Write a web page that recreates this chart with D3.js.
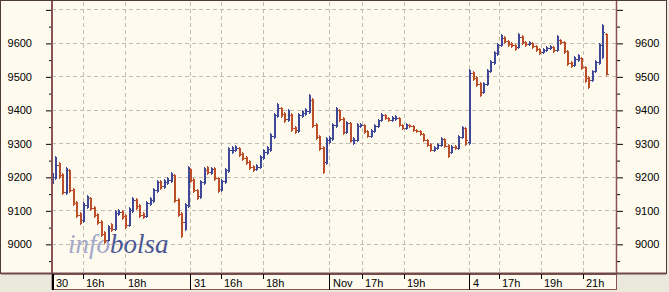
<!DOCTYPE html>
<html>
<head>
<meta charset="utf-8">
<script src="https://cdn.jsdelivr.net/npm/d3@7"></script>
<style>
  body { margin: 0; background: #ebe8dc; }
  svg { display: block; }
</style>
</head>
<body>
<svg id="chart" width="669" height="292"></svg>
<script>
// trading days shown, in session hours counted from the left edge
const dayLabels = ['30', '31', 'Nov', '4']
const dayStart = [0, 6.57, 13.19, 19.86]
const dayOpenHour = [14.52, 14.52, 15.43, 15.57]
const dayHourTicks = [[16, 18], [16, 18], [17, 19], [17, 19, 21]]
const sessionHours = 26.86
const barMinutes = 10

const yLabels = [9000, 9100, 9200, 9300, 9400, 9500, 9600]
const yGrid = [9000, 9100, 9200, 9300, 9400, 9500, 9600, 9700]
const yMinor = [8950, 9050, 9150, 9250, 9350, 9450, 9550, 9650]

// [open, high, low, close] per 10 min bar
const bars30 = [
  [9195, 9215, 9178, 9200], [9200, 9263, 9195, 9236], [9236, 9245, 9198, 9206], [9206, 9212, 9148, 9155],
  [9155, 9228, 9150, 9221], [9221, 9224, 9155, 9161], [9161, 9168, 9115, 9122], [9122, 9128, 9080, 9087],
  [9087, 9095, 9058, 9072], [9072, 9125, 9066, 9116], [9116, 9145, 9108, 9137], [9137, 9140, 9100, 9107],
  [9107, 9112, 9080, 9087], [9087, 9092, 9058, 9066], [9066, 9070, 9022, 9030], [9030, 9038, 9003, 9012],
  [9012, 9055, 9008, 9048], [9048, 9062, 9038, 9045], [9045, 9100, 9040, 9093], [9093, 9105, 9085, 9096],
  [9096, 9100, 9075, 9084], [9084, 9088, 9048, 9057], [9057, 9110, 9052, 9102], [9102, 9140, 9096, 9131],
  [9131, 9136, 9105, 9113], [9113, 9118, 9080, 9087], [9087, 9095, 9076, 9084], [9084, 9128, 9080, 9122],
  [9122, 9140, 9115, 9131], [9131, 9168, 9126, 9161], [9161, 9192, 9155, 9185], [9185, 9190, 9165, 9173],
  [9173, 9195, 9168, 9185], [9185, 9200, 9178, 9191], [9191, 9215, 9186, 9206], [9206, 9210, 9125, 9131],
  [9131, 9138, 9082, 9090], [9090, 9095, 9020, 9066], [9066, 9122, 9040, 9116], [9116, 9232, 9110, 9221]
]
const bars31 = [
  [9221, 9225, 9185, 9191], [9191, 9196, 9155, 9161], [9161, 9165, 9135, 9143], [9143, 9190, 9138, 9185],
  [9185, 9228, 9180, 9221], [9221, 9232, 9208, 9215], [9215, 9230, 9210, 9224], [9224, 9228, 9190, 9197],
  [9197, 9200, 9156, 9164], [9164, 9195, 9158, 9188], [9188, 9226, 9182, 9221], [9221, 9288, 9216, 9281],
  [9281, 9292, 9272, 9281], [9281, 9296, 9276, 9287], [9287, 9290, 9262, 9269], [9269, 9274, 9250, 9257],
  [9257, 9262, 9238, 9245], [9245, 9250, 9224, 9230], [9230, 9236, 9218, 9224], [9224, 9238, 9220, 9230],
  [9230, 9266, 9226, 9260], [9260, 9282, 9254, 9275], [9275, 9292, 9268, 9284], [9284, 9330, 9278, 9322],
  [9322, 9392, 9316, 9385], [9385, 9420, 9380, 9406], [9406, 9410, 9380, 9388], [9388, 9394, 9365, 9373],
  [9373, 9402, 9368, 9385], [9385, 9390, 9338, 9346], [9346, 9352, 9330, 9340], [9340, 9392, 9335, 9385],
  [9385, 9400, 9378, 9391], [9391, 9405, 9386, 9397], [9397, 9446, 9392, 9430], [9430, 9436, 9348, 9355],
  [9355, 9360, 9312, 9319], [9319, 9324, 9280, 9287], [9287, 9292, 9212, 9245], [9245, 9318, 9238, 9310]
]
const barsNov = [
  [9310, 9322, 9300, 9316], [9316, 9362, 9310, 9355], [9355, 9410, 9350, 9400], [9400, 9404, 9368, 9373],
  [9373, 9378, 9328, 9334], [9334, 9368, 9330, 9361], [9361, 9365, 9304, 9310], [9310, 9318, 9298, 9310],
  [9310, 9360, 9306, 9352], [9352, 9362, 9348, 9355], [9355, 9358, 9332, 9337], [9337, 9341, 9318, 9322],
  [9322, 9342, 9318, 9337], [9337, 9357, 9333, 9352], [9352, 9374, 9348, 9370], [9370, 9390, 9366, 9385],
  [9385, 9388, 9372, 9376], [9376, 9380, 9366, 9370], [9370, 9382, 9367, 9376], [9376, 9384, 9371, 9376],
  [9376, 9379, 9351, 9355], [9355, 9359, 9342, 9346], [9346, 9360, 9343, 9355], [9355, 9358, 9348, 9352],
  [9352, 9356, 9336, 9340], [9340, 9344, 9333, 9337], [9337, 9340, 9324, 9328], [9328, 9331, 9306, 9310],
  [9310, 9314, 9292, 9296], [9296, 9300, 9276, 9281], [9281, 9292, 9277, 9287], [9287, 9300, 9283, 9296],
  [9296, 9318, 9292, 9313], [9313, 9316, 9289, 9293], [9293, 9297, 9258, 9275], [9275, 9295, 9270, 9290],
  [9290, 9294, 9282, 9287], [9287, 9324, 9283, 9319], [9319, 9352, 9315, 9346], [9346, 9350, 9296, 9310]
]
const bars4 = [
  [9305, 9522, 9298, 9510], [9510, 9516, 9488, 9496], [9496, 9500, 9470, 9478], [9478, 9482, 9440, 9454],
  [9454, 9484, 9450, 9478], [9478, 9522, 9474, 9516], [9516, 9550, 9512, 9543], [9543, 9576, 9538, 9570],
  [9570, 9600, 9565, 9594], [9594, 9626, 9590, 9615], [9615, 9620, 9600, 9606], [9606, 9610, 9592, 9597],
  [9597, 9602, 9588, 9594], [9594, 9598, 9580, 9588], [9588, 9630, 9584, 9618], [9618, 9622, 9598, 9603],
  [9603, 9607, 9592, 9597], [9597, 9606, 9593, 9600], [9600, 9604, 9586, 9591], [9591, 9595, 9577, 9582],
  [9582, 9586, 9568, 9573], [9573, 9584, 9569, 9579], [9579, 9590, 9575, 9585], [9585, 9594, 9581, 9588],
  [9588, 9592, 9574, 9579], [9579, 9622, 9575, 9609], [9609, 9613, 9598, 9603], [9603, 9606, 9570, 9576],
  [9576, 9580, 9534, 9540], [9540, 9546, 9528, 9534], [9534, 9560, 9530, 9552], [9552, 9566, 9546, 9555],
  [9555, 9559, 9522, 9528], [9528, 9532, 9484, 9496], [9496, 9500, 9466, 9490], [9490, 9520, 9486, 9516],
  [9516, 9548, 9512, 9543], [9543, 9600, 9538, 9594], [9594, 9655, 9556, 9633], [9625, 9630, 9505, 9508]
]
const dayBars = [bars30, bars31, barsNov, bars4]

const upColor = '#3e4896'
const downColor = '#bc4e2a'
const axisColor = '#8a5454'
const cream = '#fefaee'

const plot = {left: 52, right: 616, top: 2, bottom: 273}
const svg = d3.select('#chart')

const x = d3.scaleLinear().domain([0, sessionHours]).range([plot.left, plot.right])
const y = d3.scaleLinear().domain([8913, 9722]).range([plot.bottom, plot.top])

// frame + label band
svg.append('rect').attr('x', 0.5).attr('y', 0.5).attr('width', 666).attr('height', 273)
  .attr('fill', cream).attr('stroke', '#4e3c3c')
svg.append('rect').attr('x', plot.left).attr('y', 274.5).attr('width', plot.right - plot.left + 0.5).attr('height', 15)
  .attr('fill', cream).attr('stroke', axisColor)

// gridlines
const gridX = []
dayLabels.forEach((d, i) => {
  if (i > 0) gridX.push(dayStart[i])
  dayHourTicks[i].forEach(h => gridX.push(dayStart[i] + h - dayOpenHour[i]))
})
const grid = svg.append('g').attr('stroke', '#c2beb2').attr('stroke-dasharray', '4,3').attr('shape-rendering', 'crispEdges')
grid.selectAll('.gh').data(yGrid).join('line')
  .attr('x1', plot.left).attr('x2', plot.right)
  .attr('y1', v => Math.round(y(v)) + 0.5).attr('y2', v => Math.round(y(v)) + 0.5)
grid.selectAll('.gv').data(gridX).join('line')
  .attr('x1', t => Math.round(x(t)) + 0.5).attr('x2', t => Math.round(x(t)) + 0.5)
  .attr('y1', plot.top).attr('y2', plot.bottom)

// watermark
const mark = svg.append('text').attr('x', 68).attr('y', 253)
  .attr('font-family', '"Liberation Serif", serif').attr('font-style', 'italic').attr('font-size', 27)
mark.append('tspan').attr('fill', '#a3a8c8').text('info')
mark.append('tspan').attr('fill', '#4b5794').text('bolsa')

// OHLC bars: 2px high-low stem, 1px open / close ticks
const bars = []
dayBars.forEach((rows, d) => rows.forEach((r, k) => {
  bars.push({t: dayStart[d] + k * barMinutes / 60, o: r[0], h: r[1], l: r[2], c: r[3]})
}))
const py = v => Math.round(y(v)) + 0.5
svg.append('g').attr('shape-rendering', 'crispEdges').attr('fill', 'none')
  .selectAll('path').data(bars).join('path')
  .attr('stroke', b => b.c >= b.o ? upColor : downColor)
  .attr('d', b => {
    const px = Math.round(x(b.t))
    const top = Math.round(y(b.h)), bot = Math.round(y(b.l)) + 1
    return `M${px + 0.5},${top}V${bot}M${px + 1.5},${top + 1}V${bot - 1}` +
      `M${px - 1},${py(b.o)}H${px}M${px + 2},${py(b.c)}H${px + 3}`
  })

// y axes
function styleAxis (g) {
  g.select('.domain').remove()
  g.selectAll('line').attr('stroke', '#000')
  g.selectAll('text').attr('fill', '#000')
  g.attr('font-family', '"Liberation Sans", Arial, sans-serif').attr('font-size', 11)
}
const labelFmt = v => yLabels.includes(v) ? v : ''
svg.append('g').attr('transform', `translate(${plot.left},0.5)`)
  .call(d3.axisLeft(y).tickValues(yGrid).tickSize(6).tickPadding(14).tickFormat(labelFmt)).call(styleAxis)
svg.append('g').attr('transform', `translate(${plot.left},0.5)`)
  .call(d3.axisLeft(y).tickValues(yMinor).tickSize(3).tickFormat('')).call(styleAxis)
svg.append('g').attr('transform', `translate(${plot.right + 1},0.5)`)
  .call(d3.axisRight(y).tickValues(yGrid).tickSize(6).tickPadding(12).tickFormat(labelFmt)).call(styleAxis)
svg.append('g').attr('transform', `translate(${plot.right + 1},0.5)`)
  .call(d3.axisRight(y).tickValues(yMinor).tickSize(3).tickFormat('')).call(styleAxis)

// axis lines
svg.append('line').attr('x1', plot.left).attr('x2', plot.left).attr('y1', 1).attr('y2', 274)
  .attr('stroke', axisColor).attr('stroke-width', 2)
svg.append('line').attr('x1', plot.right + 0.5).attr('x2', plot.right + 0.5).attr('y1', 1).attr('y2', 274)
  .attr('stroke', axisColor).attr('stroke-width', 1.5)
svg.append('line').attr('x1', 1).attr('x2', 666).attr('y1', 273.5).attr('y2', 273.5)
  .attr('stroke', '#6e4848').attr('stroke-width', 2)

// x axis band: day separators, hour ticks, labels
const xg = svg.append('g').attr('font-family', '"Liberation Sans", Arial, sans-serif').attr('font-size', 11)
  .attr('shape-rendering', 'crispEdges')
dayLabels.forEach((label, i) => {
  const dx = Math.round(x(dayStart[i]))
  xg.append('line').attr('x1', dx + 0.5).attr('x2', dx + 0.5).attr('y1', 274).attr('y2', 290)
    .attr('stroke', '#000').attr('stroke-width', i === 0 ? 2 : 1)
  xg.append('text').attr('x', dx + 4).attr('y', 287).text(label)
  dayHourTicks[i].forEach(h => {
    const hx = Math.round(x(dayStart[i] + h - dayOpenHour[i]))
    xg.append('line').attr('x1', hx + 0.5).attr('x2', hx + 0.5).attr('y1', 274).attr('y2', 279).attr('stroke', '#000')
    xg.append('text').attr('x', hx + 3).attr('y', 287).text(h + 'h')
  })
})
</script>
</body>
</html>
